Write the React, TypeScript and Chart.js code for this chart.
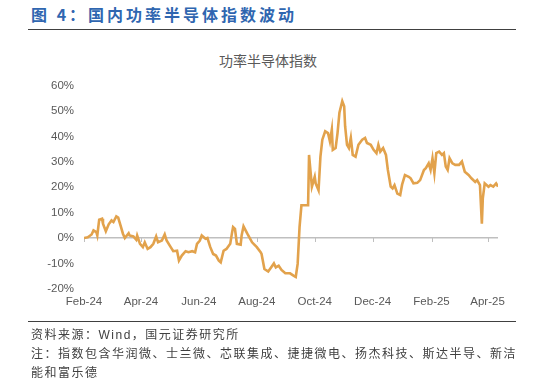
import React, { useEffect, useRef } from "react";
import { Chart, registerables } from "chart.js";

Chart.register(...registerables);

// Days counted from 2024-02-14 (axis origin)
const dayOffsets = [
  0, 4, 8, 10, 13, 14, 16, 19, 20, 23, 26, 29, 31, 34, 36, 39, 41, 43, 47, 48,
  52, 55, 56, 59, 62, 64, 67, 70, 73, 76, 78, 82, 85, 87, 91, 94, 98, 100, 103, 107,
  110, 114, 117, 119, 122, 124, 128, 130, 133, 136, 139, 142, 144, 147, 150, 154, 156, 157, 159, 161,
  165, 166, 168, 172, 177, 182, 186, 187, 190, 194, 197, 200, 202, 205, 208, 212, 217, 221, 223, 225,
  227, 229, 236, 237, 240, 243, 244, 247, 249, 251, 254, 257, 259, 261, 262, 265, 267, 269, 272, 274,
  275, 277, 279, 281, 283, 286, 289, 293, 296, 298, 302, 305, 308, 310, 312, 315, 318, 320, 323, 325,
  327, 330, 333, 335, 338, 342, 344, 347, 351, 354, 358, 360, 363, 365, 367, 369, 371, 374, 377, 379,
  381, 383, 385, 388, 391, 395, 398, 401, 405, 408, 412, 414, 417, 419, 420, 422, 426, 428, 431, 434,
  436,
];

const indexValues = [
  0, 0.3, 1.4, 3, 2.3, 1, 7.2, 7.6, 5.6, 2.7, 5.4, 6.9, 6.3, 8.5, 8, 4.3, 1.7, 0, 1.9, 1,
  0.6, -0.7, 1, -2.3, -3.6, -1.7, -4.3, -3.6, -2.3, 0.6, -1.7, -1, 1.4, -1, -3.4, -5.2, -5, -8.9, -6.9, -5.2,
  -5.6, -5.2, -5.6, -2.3, -1, 1, -0.3, 0, -3.6, -6.3, -6.9, -8.9, -9.6, -5, -4.3, -2.3, 2.3, 4.3, 3.6, -2.3,
  -2.6, 1, 4.6, 1.7, -1.7, -3.6, -5.6, -6.3, -12.2, -13.2, -11.6, -10, -11.6, -10.9, -12.6, -13.9, -13.9, -14.9, -15.3, -10.2,
  4.3, 12.9, 12.9, 32.7, 20.2, 24.1, 21.5, 18.8, 32, 38.7, 42, 41.3, 38, 42.7, 34.7, 35.4, 41.3, 49.3, 53.9, 51.9,
  44, 36.7, 35.4, 39.4, 32.7, 32, 36.7, 38.7, 39.4, 37.4, 36.7, 34.7, 33.4, 36.7, 34, 35.4, 32.7, 26.8, 20.2, 19.5,
  20.8, 17.5, 16.9, 21, 24.8, 24.1, 23.5, 21.5, 21.7, 22.8, 26.8, 27.5, 29.4, 26.8, 31.4, 25.5, 33.4, 34, 32.7, 33.4,
  28.1, 26.8, 31.4, 29.4, 28.8, 28.8, 30.1, 26.1, 24.8, 23.5, 22.1, 22.8, 20.8, 5.6, 15.6, 21.5, 20.2, 20.8, 20.2, 21.5,
  20.2,
];

const tickDays = [0, 60, 121, 182, 243, 304, 366, 425];
const tickLabels = ["Feb-24", "Apr-24", "Jun-24", "Aug-24", "Oct-24", "Dec-24", "Feb-25", "Apr-25"];

const yMin = -20;
const yMax = 60;
const yStep = 10;

const headTitle = "图 4：国内功率半导体指数波动";
const chartTitle = "功率半导体指数";
const sourceLine = "资料来源：Wind，国元证券研究所";
const noteLine1 = "注：指数包含华润微、士兰微、芯联集成、捷捷微电、扬杰科技、斯达半导、新洁";
const noteLine2 = "能和富乐德";

const axisFont = { family: '"Liberation Sans", Arial, sans-serif', size: 11.5 };
const axisColor = "#595959";

const zeroTicksPlugin = {
  id: "zeroTicks",
  beforeDatasetsDraw(chart: any) {
    const { ctx, scales } = chart;
    const x = scales.x;
    const y = scales.y;
    const y0 = y.getPixelForValue(0);
    ctx.save();
    ctx.strokeStyle = "#BFBFBF";
    ctx.lineWidth = 1;
    tickDays.forEach((d) => {
      const px = Math.round(x.getPixelForValue(d)) + 0.5;
      ctx.beginPath();
      ctx.moveTo(px, y0);
      ctx.lineTo(px, y0 + 4);
      ctx.stroke();
    });
    ctx.restore();
  },
};

export default function App() {
  const ref = useRef<HTMLCanvasElement>(null);

  useEffect(() => {
    if (!ref.current) return;
    const chart = new Chart(ref.current, {
      type: "line",
      data: {
        datasets: [
          {
            data: dayOffsets.map((d, i) => ({ x: d, y: indexValues[i] })),
            borderColor: "#E2A24C",
            borderWidth: 2.6,
            pointRadius: 0,
            tension: 0,
            fill: false,
          },
        ],
      },
      options: {
        animation: false,
        responsive: false,
        maintainAspectRatio: false,
        layout: { padding: { top: 85.6, right: 38, left: 0, bottom: 67.2 } },
        plugins: {
          legend: { display: false },
          tooltip: { enabled: false },
        },
        scales: {
          x: {
            type: "linear",
            min: 0,
            max: dayOffsets[dayOffsets.length - 1],
            afterBuildTicks: (axis: any) => {
              axis.ticks = tickDays.map((v) => ({ value: v }));
            },
            afterFit: (axis: any) => {
              axis.height = 30;
            },
            ticks: {
              autoSkip: false,
              maxRotation: 0,
              padding: 6,
              color: axisColor,
              font: axisFont,
              callback: (v: any) => {
                const i = tickDays.indexOf(Number(v));
                return i >= 0 ? tickLabels[i] : "";
              },
            },
            grid: { display: false, drawTicks: false },
            border: { display: false },
          },
          y: {
            min: yMin,
            max: yMax,
            afterFit: (axis: any) => {
              axis.width = 84;
            },
            ticks: {
              stepSize: yStep,
              padding: 10,
              color: axisColor,
              font: axisFont,
              callback: (v: any) => `${v}%`,
            },
            grid: {
              drawTicks: false,
              lineWidth: 1.5,
              color: (ctx: any) =>
                ctx.tick && ctx.tick.value === 0 ? "#BFBFBF" : "rgba(0,0,0,0)",
            },
            border: { display: false },
          },
        },
      },
      plugins: [zeroTicksPlugin],
    });
    return () => chart.destroy();
  }, []);

  const footStyle: React.CSSProperties = {
    position: "absolute",
    left: 31,
    fontFamily: '"Liberation Sans", "Noto Sans CJK SC", sans-serif',
    fontSize: 12,
    letterSpacing: 1.5,
    color: "#404040",
    whiteSpace: "nowrap",
    lineHeight: "19px",
  };

  return (
    <div
      style={{
        position: "absolute",
        left: 0,
        top: 0,
        width: 536,
        height: 386,
        background: "#fff",
        overflow: "hidden",
      }}
    >
      <div
        style={{
          position: "absolute",
          left: 31,
          top: 3,
          fontFamily: '"Noto Sans CJK SC", sans-serif',
          fontWeight: 700,
          fontSize: 16,
          letterSpacing: 3,
          color: "#2F66B0",
          whiteSpace: "nowrap",
          lineHeight: "22px",
        }}
      >
        {headTitle}
      </div>
      <div
        style={{
          position: "absolute",
          left: 28,
          top: 29,
          width: 488,
          height: 0,
          borderTop: "1.5px solid #404040",
        }}
      />
      <div
        style={{
          position: "absolute",
          left: 168,
          width: 200,
          top: 50,
          textAlign: "center",
          fontFamily: '"Noto Sans CJK SC", sans-serif',
          fontSize: 14,
          color: "#595959",
          lineHeight: "20px",
        }}
      >
        {chartTitle}
      </div>
      <canvas
        ref={ref}
        width={536}
        height={386}
        style={{ position: "absolute", left: 0, top: 0, width: 536, height: 386 }}
      />
      <div
        style={{
          position: "absolute",
          left: 28,
          top: 321,
          width: 488,
          height: 0,
          borderTop: "1.5px solid #404040",
        }}
      />
      <div style={{ ...footStyle, top: 325.5 }}>{sourceLine}</div>
      <div style={{ ...footStyle, top: 344.5 }}>{noteLine1}</div>
      <div style={{ ...footStyle, top: 363.5 }}>{noteLine2}</div>
    </div>
  );
}
